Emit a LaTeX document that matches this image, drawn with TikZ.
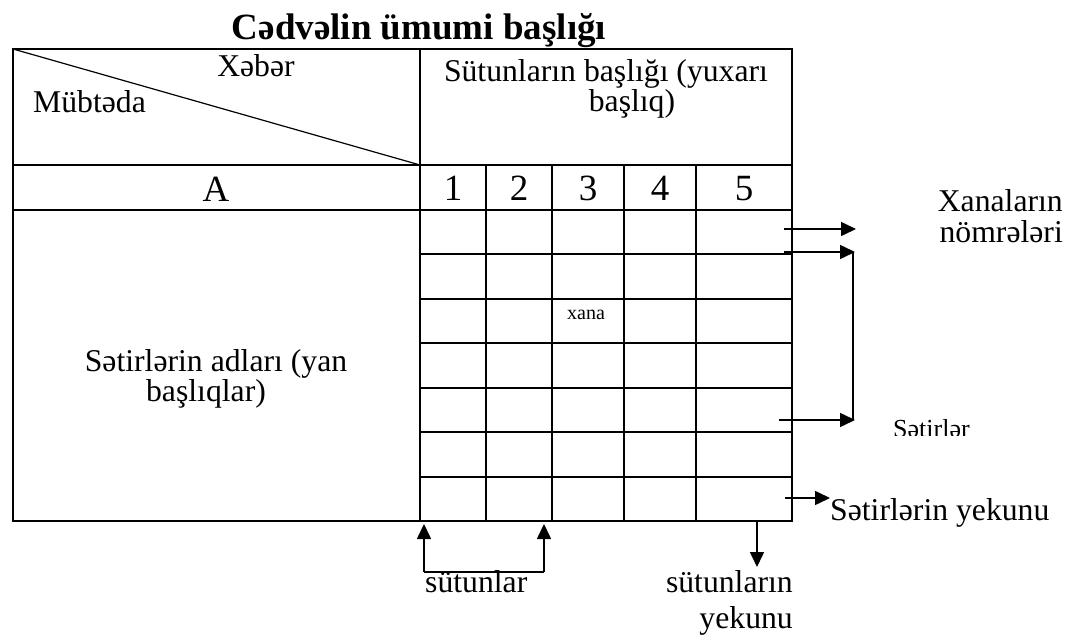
\documentclass[tikz,border=0pt]{standalone}
\usepackage{fontspec}
\setmainfont{Liberation Serif}
\usetikzlibrary{arrows.meta}
\begin{document}
\begin{tikzpicture}[x=1pt,y=-1pt,
  grid/.style={line width=2.2pt},
  diag/.style={line width=1.2pt},
  conn/.style={line width=1.6pt},
  arr/.style={conn,-{Triangle[length=15pt,width=14pt]}},
  txt/.style={inner sep=0pt,font=\fontsize{31.7}{31.7}\selectfont},
  big/.style={inner sep=0pt,font=\fontsize{37}{37}\selectfont},
  ttl/.style={inner sep=0pt,font=\fontsize{37}{37}\selectfont\bfseries},
  small/.style={inner sep=0pt,font=\fontsize{26}{26}\selectfont},
  tiny/.style={inner sep=0pt,font=\fontsize{20}{20}\selectfont},
]
\useasboundingbox (0,0) rectangle (1077,636);

% table
\draw[grid] (13,49) rectangle (792,521);
\draw[grid] (420,49) -- (420,521);
\draw[grid] (13,165) -- (792,165);
\draw[grid] (13,210) -- (792,210);
\foreach \x in {486,552,624,696} \draw[grid] (\x,165) -- (\x,521);
\foreach \y in {254,299,343,388,432,477} \draw[grid] (420,\y) -- (792,\y);
\draw[diag] (13,49) -- (420,165);

% texts
\node[ttl,anchor=base] (title) at (419,40) {Cədvəlin ümumi başlığı};
\node[txt,anchor=base] (xeber) at (256,77) {Xəbər};
\node[txt,anchor=base west] (mubt) at (33,113) {Mübtəda};
\node[txt,anchor=base] (sb1) at (606,82) {Sütunların başlığı (yuxarı};
\node[txt,anchor=base] (sb2) at (632,112) {başlıq)};
\node[big,anchor=base] (A) at (216,202) {A};
\node[big,anchor=base] (n1) at (453,201) {1};
\node[big,anchor=base] (n2) at (519,201) {2};
\node[big,anchor=base] (n3) at (588,201) {3};
\node[big,anchor=base] (n4) at (660,201) {4};
\node[big,anchor=base] (n5) at (744,201) {5};
\node[tiny,anchor=base] (xana) at (586,320) {xana};
\node[txt,anchor=base] (sa1) at (216,372) {Sətirlərin adları (yan};
\node[txt,anchor=base] (sa2) at (206,402) {başlıqlar)};
\node[txt,anchor=base east] (xn1) at (1063,212) {Xanaların};
\node[txt,anchor=base east] (xn2) at (1063,243) {nömrələri};
\begin{scope}
  \clip (880,400) rectangle (1000,435);
  \node[small,anchor=base west] (setir) at (893,437) {Sətirlər};
\end{scope}
\node[txt,anchor=base west] (sy) at (830,520) {Sətirlərin yekunu};
\node[txt,anchor=base west] (sut) at (425,592) {sütunlar};
\node[txt,anchor=base east] (sy1) at (793,592) {sütunların};
\node[txt,anchor=base east] (sy2) at (793,628) {yekunu};

% connectors
\coordinate (a1s) at (784,229); \coordinate (a1e) at (856,229);
\draw[arr] (a1s) -- (a1e);
\coordinate (b1s) at (784,252); \coordinate (b1e) at (855,252);
\coordinate (b2s) at (779,420); \coordinate (b2e) at (855,420);
\coordinate (bv1) at (853,252); \coordinate (bv2) at (853,420);
\draw[arr] (b1s) -- (b1e);
\draw[arr] (b2s) -- (b2e);
\draw[conn] (bv1) -- (bv2);
\coordinate (c1s) at (785,498);
\draw[arr] (c1s) -- (sy.west |- c1s);
\coordinate (d1) at (424,572); \coordinate (d1e) at (424,524);
\coordinate (d2) at (544,572); \coordinate (d2e) at (544,524);
\draw[arr] (d1) -- (d1e);
\draw[arr] (d2) -- (d2e);
\draw[conn] (d1) -- (d2);
\coordinate (e1) at (757,522); \coordinate (e1e) at (757,567);
\draw[arr] (e1) -- (e1e);
\end{tikzpicture}
\end{document}
